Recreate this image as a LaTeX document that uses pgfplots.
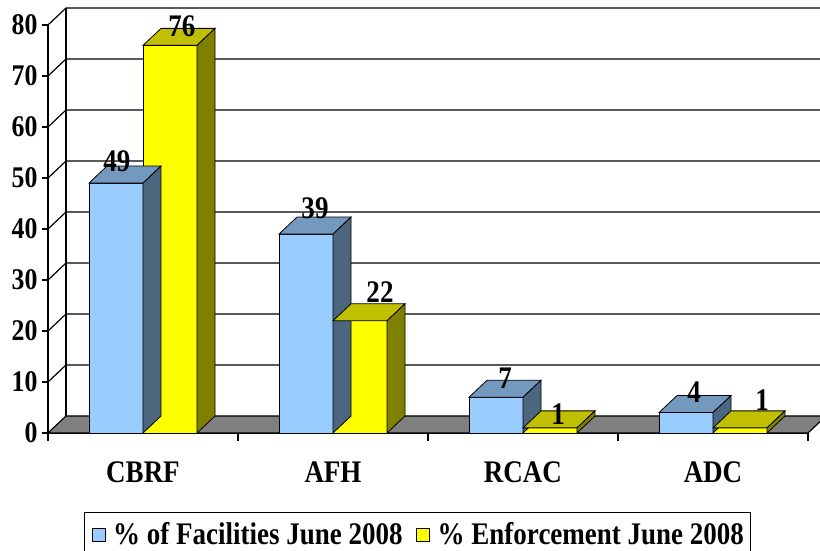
\documentclass[border=0pt]{standalone}
\usepackage{pgfplots}
\pgfplotsset{compat=1.18}
\usepackage{pgfplotstable}
\usepackage{fontspec}
\setmainfont{Liberation Serif}[FakeStretch=0.86]

\definecolor{bluefront}{RGB}{153,204,255}
\definecolor{bluetop}{RGB}{115,153,191}
\definecolor{blueside}{RGB}{77,102,128}
\definecolor{yelfront}{RGB}{255,255,0}
\definecolor{yeltop}{RGB}{192,192,0}
\definecolor{yelside}{RGB}{128,128,0}
\definecolor{floorgray}{RGB}{128,128,128}

\newcommand{\chartfont}{\fontsize{30}{32}\selectfont\bfseries}
\newcommand{\legfont}{\fontsize{31.4}{33}\selectfont\bfseries}

% depth of the 3d look: 18pt right, 17pt up; 1 unit = 5.1pt
\pgfdeclareplotmark{bluebox}{%
  \pgfmathsetmacro\hb{17-\Y*5.1}\pgfmathsetmacro\hc{-\Y*5.1}%
  \pgfsetfillcolor{bluetop}%
  \pgfpathmoveto{\pgfpoint{-54pt}{0pt}}\pgfpathlineto{\pgfpoint{0pt}{0pt}}%
  \pgfpathlineto{\pgfpoint{18pt}{17pt}}\pgfpathlineto{\pgfpoint{-36pt}{17pt}}\pgfpathclose
  \pgfusepathqfillstroke
  \pgfsetfillcolor{blueside}%
  \pgfpathmoveto{\pgfpoint{0pt}{0pt}}\pgfpathlineto{\pgfpoint{18pt}{17pt}}%
  \pgfpathlineto{\pgfpoint{18pt}{\hb pt}}\pgfpathlineto{\pgfpoint{0pt}{\hc pt}}\pgfpathclose
  \pgfusepathqfillstroke}
\pgfdeclareplotmark{yelbox}{%
  \pgfmathsetmacro\hb{17-\Y*5.1}\pgfmathsetmacro\hc{-\Y*5.1}%
  \pgfsetfillcolor{yeltop}%
  \pgfpathmoveto{\pgfpoint{0pt}{0pt}}\pgfpathlineto{\pgfpoint{54pt}{0pt}}%
  \pgfpathlineto{\pgfpoint{72pt}{17pt}}\pgfpathlineto{\pgfpoint{18pt}{17pt}}\pgfpathclose
  \pgfusepathqfillstroke
  \pgfsetfillcolor{yelside}%
  \pgfpathmoveto{\pgfpoint{54pt}{0pt}}\pgfpathlineto{\pgfpoint{72pt}{17pt}}%
  \pgfpathlineto{\pgfpoint{72pt}{\hb pt}}\pgfpathlineto{\pgfpoint{54pt}{\hc pt}}\pgfpathclose
  \pgfusepathqfillstroke}

% values, plus where each value label sits (pt from the category centre / bar top)
\pgfplotstableread{
x fac enf flx fly elx ely
0 49 76 -26 12 39 9
1 39 22 -18 16 47 18
2 7  1  -18 9  35 3
3 4  1  -19 10 49 17
}\shares

\begin{document}
\begin{tikzpicture}
\begin{axis}[
  x=190pt, y=5.1pt,
  xmin=-0.5, xmax=3.5, ymin=0, ymax=80,
  clip=false,
  separate axis lines,
  axis x line*=bottom, axis y line*=left,
  axis line style={line width=1.2pt, -},
  ytick={0,10,...,80},
  xtick={0,1,2,3}, xticklabels={CBRF,AFH,RCAC,ADC},
  major x tick style={draw=none},
  ytick style={line width=1.2pt, black},
  tick align=outside, major tick length=6pt,
  /pgf/number format/assume math mode=true,
  ticklabel style={font=\chartfont},
  xticklabel style={anchor=base, yshift=-44pt, font=\legfont},
  yticklabel style={xshift=-1pt},
  legend columns=2,
  legend style={at={(0.047,-0.193)}, anchor=north west, draw=black,
    line width=1pt, font=\legfont, inner xsep=4pt, inner ysep=8pt,
    /tikz/every even column/.append style={column sep=8pt}},
  every node near coord/.append style={font=\legfont, anchor=base},
]
% floor, walls and gridlines
\fill[floorgray, draw=black, line width=1.2pt] (axis cs:-0.5,0) -- (axis cs:3.5,0)
  -- ++(18pt,17pt) -- ([shift={(18pt,17pt)}]axis cs:-0.5,0) -- cycle;
\draw[line width=1.2pt] ([shift={(18pt,17pt)}]axis cs:-0.5,0) -- ([shift={(18pt,17pt)}]axis cs:-0.5,80);
\pgfplotsinvokeforeach{10,20,...,80}{
  \draw[line width=1.2pt] (axis cs:-0.5,#1) -- ++(18pt,17pt) -- ([shift={(30pt,17pt)}]axis cs:3.5,#1);
}
\pgfplotsinvokeforeach{-0.5,0.5,1.5,2.5,3.5}{
  \draw[line width=1.2pt] (axis cs:#1,0) -- ([yshift=-8pt]axis cs:#1,0);
}
\coordinate (O) at (axis cs:-0.5,0);

% % of Facilities
\addplot[ybar, bar width=54pt, bar shift=-27pt, fill=bluefront, draw=black, line width=0.8pt,
  legend image code/.code={\path[draw=none, fill=none] (0pt,0pt) (23pt,0pt);
    \draw[fill=bluefront, draw=black, line width=0.8pt] (4pt,-7pt) rectangle (17pt,6pt);}]
  table[x=x, y=fac] {\shares};
\addlegendentry{\% of Facilities June 2008}
\addplot[only marks, scatter, forget plot, mark=bluebox, line width=0.8pt,
  scatter/use mapped color={draw=black, fill=bluetop},
  visualization depends on={\thisrow{fac} \as \Y},
  visualization depends on={\thisrow{flx} \as \lx},
  visualization depends on={\thisrow{fly} \as \ly},
  nodes near coords, every node near coord/.append style={xshift=\lx pt, yshift=\ly pt}]
  table[x=x, y=fac] {\shares};

% % Enforcement
\addplot[ybar, bar width=54pt, bar shift=27pt, fill=yelfront, draw=black, line width=0.8pt,
  legend image code/.code={\path[draw=none, fill=none] (0pt,0pt) (23pt,0pt);
    \draw[fill=yelfront, draw=black, line width=0.8pt] (4pt,-7pt) rectangle (17pt,6pt);}]
  table[x=x, y=enf] {\shares};
\addlegendentry{\% Enforcement June 2008}
\addplot[only marks, scatter, forget plot, mark=yelbox, line width=0.8pt,
  scatter/use mapped color={draw=black, fill=yeltop},
  visualization depends on={\thisrow{enf} \as \Y},
  visualization depends on={\thisrow{elx} \as \lx},
  visualization depends on={\thisrow{ely} \as \ly},
  nodes near coords, every node near coord/.append style={xshift=\lx pt, yshift=\ly pt}]
  table[x=x, y=enf] {\shares};
\end{axis}
\pgfresetboundingbox
\path[use as bounding box] ([shift={(-48pt,-118pt)}]O) rectangle ([shift={(772pt,433pt)}]O);
\end{tikzpicture}
\end{document}
